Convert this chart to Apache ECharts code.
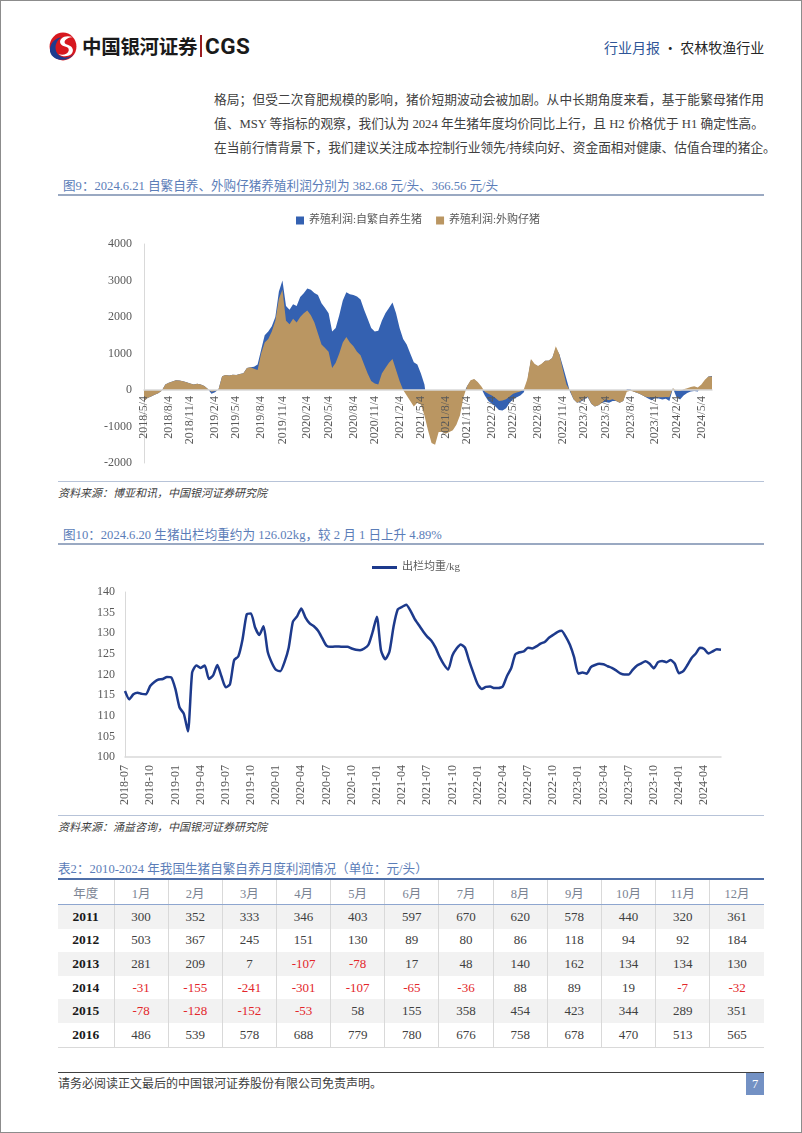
<!DOCTYPE html>
<html><head><meta charset="utf-8">
<script src="https://cdn.jsdelivr.net/npm/echarts@6/dist/echarts.min.js"></script>
<style>
html,body{margin:0;padding:0;background:#fff;}
#page{position:relative;width:802px;height:1133px;box-sizing:border-box;border:1px solid #8c8c8c;overflow:hidden;font-family:"Liberation Serif","Noto Sans CJK SC",serif;color:#404040;background:#fff;}
.abs{position:absolute;}
.pline{position:absolute;left:213px;width:550px;font-size:12.7px;line-height:24px;height:24px;text-align:justify;text-align-last:justify;white-space:nowrap;color:#404040;}
.cap{position:absolute;left:62px;font-size:12.6px;color:#5b7db8;white-space:nowrap;}
.rule{position:absolute;left:57px;width:706px;}
.src{position:absolute;left:57px;font-size:11px;font-style:italic;color:#404040;white-space:nowrap;}
#tbl{position:absolute;left:57px;top:877px;width:706px;border-collapse:collapse;table-layout:fixed;border-top:2px solid #4f6fa8;}
#tbl td{text-align:center;padding:0;font-size:13px;color:#404040;border-left:1px solid #d9d9d9;height:23.6px;}
#tbl td:first-child{border-left:none;}
#tbl tr.hd td{color:#7b8494;height:24px;border-bottom:1px solid #8ea6cf;font-size:12.5px;}
#tbl tr.g td{background:#f2f2f2;}
#tbl td.yr{font-weight:bold;color:#1a1a1a;font-size:13.5px;}
#tbl td.neg{color:#e3262a;}
#tbl tr:last-child td{border-bottom:1px solid #d9d9d9;}
</style></head>
<body>
<div id="page">
  <!-- header -->
  <svg class="abs" style="left:46px;top:30px" width="31" height="31" viewBox="0 0 30 30">
    <ellipse cx="15.5" cy="15" rx="13" ry="13.5" fill="#d7181f"/>
    <path d="M3 20 C 5 29, 20 31, 26 22 C 22 27, 12 27, 9 20 C 7 15, 9 9, 14 6 C 7 7, 2 13, 3 20 Z" fill="#1d3b8f"/>
    <path d="M25 6 C 18 3, 11 7, 13 12 C 15 16, 22 14, 21 19 C 20 23, 14 24, 11 22 C 16 27, 26 24, 25 18 C 24 13, 17 14, 17 11 C 17 8, 21 6, 25 6 Z" fill="#fff"/>
  </svg>
  <div class="abs" style="left:81px;top:31px;font-family:'Noto Sans CJK SC';font-weight:bold;font-size:19.5px;color:#1a1a1a;letter-spacing:-0.3px;line-height:28px;">中国银河证券</div>
  <div class="abs" style="left:199px;top:34px;width:2px;height:22px;background:#9b1c20;"></div>
  <div class="abs" style="left:204px;top:30px;font-family:'Roboto';font-weight:bold;font-size:22.5px;color:#1a1a1a;line-height:30px;letter-spacing:0.5px;">CGS</div>
  <div class="abs" style="left:603px;top:36px;font-family:'Noto Sans CJK SC';font-size:14px;line-height:20px;white-space:nowrap;"><span style="color:#2f5597;">行业月报</span><span style="color:#262626;"> · 农林牧渔行业</span></div>

  <!-- paragraph -->
  <div class="pline" style="top:87px;">格局；但受二次育肥规模的影响，猪价短期波动会被加剧。从中长期角度来看，基于能繁母猪作用</div>
  <div class="pline" style="top:111px;">值、MSY 等指标的观察，我们认为 2024 年生猪年度均价同比上行，且 H2 价格优于 H1 确定性高。</div>
  <div class="pline" style="top:135px;width:547px;">在当前行情背景下，我们建议关注成本控制行业领先/持续向好、资金面相对健康、估值合理的猪企。</div>

  <!-- figure 9 -->
  <div class="cap" style="top:174px;">图9：2024.6.21 自繁自养、外购仔猪养殖利润分别为 382.68 元/头、366.56 元/头</div>
  <div class="rule" style="top:193px;height:2px;background:#9aa9c2;"></div>
  <div id="c1" class="abs" style="left:0;top:200px;width:802px;height:280px;"></div>
  <div class="rule" style="top:480px;height:1px;background:#b7c3d8;"></div>
  <div class="src" style="top:483px;">资料来源：博亚和讯，中国银河证券研究院</div>

  <!-- figure 10 -->
  <div class="cap" style="top:523px;">图10：2024.6.20 生猪出栏均重约为 126.02kg，较 2 月 1 日上升 4.89%</div>
  <div class="rule" style="top:542px;height:2px;background:#9aa9c2;"></div>
  <div id="c2" class="abs" style="left:0;top:548px;width:802px;height:265px;"></div>
  <div class="rule" style="top:814px;height:1px;background:#b7c3d8;"></div>
  <div class="src" style="top:817px;">资料来源：涌益咨询，中国银河证券研究院</div>

  <!-- table -->
  <div class="cap" style="left:57px;top:857px;">表2：2010-2024 年我国生猪自繁自养月度利润情况（单位：元/头）</div>
  <table id="tbl"></table>

  <!-- footer -->
  <div class="rule" style="top:1071px;height:1px;background:#404040;"></div>
  <div class="abs" style="left:57px;top:1075px;font-size:12px;color:#404040;white-space:nowrap;line-height:16px;">请务必阅读正文最后的中国银河证券股份有限公司免责声明。</div>
  <div class="abs" style="left:745px;top:1072px;width:18px;height:22px;background:#7391c4;color:#fff;font-size:12.5px;text-align:center;line-height:22px;">7</div>
</div>

<script>
// ---------- Figure 9: biweekly profit (元/头) from 2018/5/4 ----------
const profitStartDate = '2018-05-04';
const profitStepDays = 14;
const zfzyProfit = [
 -300,-220,-180,-130,-90,-20,150,200,230,270,
 260,240,210,180,150,170,150,110,30,-100,
 -60,20,380,410,400,420,410,440,460,600,
 620,640,700,1100,1500,1600,1750,2000,2700,3000,
 2300,2200,2350,2300,2550,2650,2780,2750,2660,2600,
 2380,2250,2100,1600,1700,2050,2450,2680,2620,2600,
 2560,2480,2200,1950,1700,1600,1620,1900,2100,2250,
 2400,2100,1700,1400,1250,1000,760,700,450,150,
 -600,-1000,-1100,-800,-850,-900,-850,-800,-650,-450,
 -100,100,250,290,200,50,-150,-300,-380,-450,
 -550,-560,-500,-350,-250,-200,-150,-60,250,820,
 700,650,700,800,800,880,1150,980,650,300,
 -50,-250,-350,-320,-250,-200,-380,-450,-420,-350,
 -330,-350,-300,-300,-350,-300,30,20,-50,-80,
 -120,-180,-230,-280,-220,-230,-260,-240,-300,50,
 -200,-260,-150,-80,-40,-30,-40,100,250,370,382.68
];
const wgzzProfit = [
 -300,-220,-180,-130,-90,-20,150,200,230,270,
 260,240,210,180,150,170,150,110,30,-50,
 -30,20,380,410,400,420,410,440,460,600,
 620,580,550,1000,1300,1400,1600,1900,2500,2750,
 1900,1800,1950,1850,2000,2100,2180,2050,1850,1550,
 1250,1150,1050,600,750,1000,1300,1450,1300,1200,
 1050,950,700,450,250,180,150,450,600,750,
 850,550,250,0,-150,-300,-450,-350,-400,-700,
 -1100,-1450,-1500,-1150,-1150,-1200,-1150,-1100,-950,-700,
 -200,100,270,300,220,100,-50,-100,-150,-220,
 -300,-290,-250,-180,-100,-70,-40,20,300,850,
 720,660,720,800,810,880,1200,980,550,150,
 -20,-250,-350,-300,-230,-180,-380,-450,-420,-350,
 -250,-280,-250,-300,-350,-300,-50,-20,-50,-80,
 -120,-180,-200,-200,-190,-200,-200,-190,-200,50,
 -20,-30,20,50,80,100,70,150,280,370,366.56
];
const profitTickLabels = ['2018/5/4','2018/8/4','2018/11/4','2019/2/4','2019/5/4','2019/8/4','2019/11/4',
 '2020/2/4','2020/5/4','2020/8/4','2020/11/4','2021/2/4','2021/5/4','2021/8/4','2021/11/4',
 '2022/2/4','2022/5/4','2022/8/4','2022/11/4','2023/2/4','2023/5/4','2023/8/4','2023/11/4',
 '2024/2/4','2024/5/4'];

// ---------- Figure 10: semi-monthly average slaughter weight (kg) from 2018-07 ----------
const weightStartMonth = '2018-07';
const weightValues = [
 116,114,115.2,115.6,115.3,115.2,117.2,118.2,118.8,118.9,
 119.4,119.3,116.5,112,110.5,106.2,120.5,122.2,121.6,122.2,
 118.9,119.8,122.3,119.5,116.9,117.6,123.5,124.4,128.5,134.6,
 134.8,131.4,129.6,131.7,125.5,122.8,121.1,120.8,123,126.5,
 132.8,134.1,136,133.8,132.4,131.7,130.6,128.8,127,126.7,
 126.8,126.8,126.7,126.7,126.3,126,125.9,126.3,127.2,130.3,
 134,125.8,123.7,125.5,131.7,135.8,136.4,136.9,135.5,133.5,
 132,130.5,129.2,128.2,126.5,124.2,122.4,121.2,124.6,126.3,
 127.3,126.5,123.3,120.4,117.7,116.5,117,117.1,116.7,116.7,
 117.1,119.6,121.5,124.9,125.4,125.6,126.5,126.3,126.8,127.5,
 127.9,128.9,129.6,130.3,130.6,129.2,127.2,124.2,120.2,120.5,
 120.2,121.8,122.3,122.6,122.5,122,121.6,121,120.3,120,
 120,121.2,122.2,122.7,123.2,122.6,121.5,123,123.3,123,
 123.5,122.6,120.3,120.8,122.3,124,125.1,126.5,126.2,125.1,
 125.6,126.1,126.02
];
const weightTickLabels = ['2018-07','2018-10','2019-01','2019-04','2019-07','2019-10','2020-01','2020-04',
 '2020-07','2020-10','2021-01','2021-04','2021-07','2021-10','2022-01','2022-04','2022-07','2022-10',
 '2023-01','2023-04','2023-07','2023-10','2024-01','2024-04'];

// ---------- Table 2 ----------
const tableMonths = ['1月','2月','3月','4月','5月','6月','7月','8月','9月','10月','11月','12月'];
const tableYears = ['2011','2012','2013','2014','2015','2016'];
const profit2011 = [300,352,333,346,403,597,670,620,578,440,320,361];
const profit2012 = [503,367,245,151,130,89,80,86,118,94,92,184];
const profit2013 = [281,209,7,-107,-78,17,48,140,162,134,134,130];
const profit2014 = [-31,-155,-241,-301,-107,-65,-36,88,89,19,-7,-32];
const profit2015 = [-78,-128,-152,-53,58,155,358,454,423,344,289,351];
const profit2016 = [486,539,578,688,779,780,676,758,678,470,513,565];

// ----- build table -----
(function(){
  const rows = [profit2011,profit2012,profit2013,profit2014,profit2015,profit2016];
  let h = '<colgroup><col style="width:56px">' + tableMonths.map(()=>'<col>').join('') + '</colgroup>';
  h += '<tr class="hd"><td>年度</td>' + tableMonths.map(m=>'<td>'+m+'</td>').join('') + '</tr>';
  rows.forEach((r,i)=>{
    h += '<tr class="'+(i%2===0?'g':'')+'"><td class="yr">'+tableYears[i]+'</td>' +
      r.map(v=>'<td'+(v<0?' class="neg"':'')+'>'+v+'</td>').join('') + '</tr>';
  });
  document.getElementById('tbl').innerHTML = h;
})();

const FONT = '"Liberation Serif","Noto Sans CJK SC",serif';
const DAY = 86400000;

// ----- chart 1 categories -----
const p0 = Date.parse(profitStartDate + 'T00:00:00Z');
const profitDates = zfzyProfit.map((_, i) => {
  const d = new Date(p0 + i * profitStepDays * DAY);
  return d.getUTCFullYear() + '/' + (d.getUTCMonth() + 1) + '/' + d.getUTCDate();
});
const profitLabelAt = {};
profitTickLabels.forEach(lb => {
  const [y, m, d] = lb.split('/').map(Number);
  const idx = Math.round((Date.UTC(y, m - 1, d) - p0) / (profitStepDays * DAY));
  profitLabelAt[idx] = lb;
});

const c1Grid = {left: 143, right: 91, top: 43, bottom: 18};
const c1Height = 280;
const pMin = -2000, pMax = 4000;
// move the category axis (line + labels) up to the zero value
const zeroOffset = -(c1Height - c1Grid.top - c1Grid.bottom) * (0 - pMin) / (pMax - pMin);

const c1 = echarts.init(document.getElementById('c1'), null, {renderer: 'canvas'});
c1.setOption({
  animation: false,
  textStyle: {fontFamily: FONT},
  legend: {
    top: 9, left: 290, icon: 'rect', itemWidth: 8, itemHeight: 8, itemGap: 14, itemTextGap: 4,
    textStyle: {fontSize: 11, color: '#595959', fontFamily: FONT}
  },
  grid: Object.assign({outerBoundsMode: 'none', containLabel: false}, c1Grid),
  xAxis: {
    type: 'category', boundaryGap: false, data: profitDates,
    position: 'bottom', offset: zeroOffset,
    axisLine: {onZero: false, lineStyle: {color: '#d9d9d9', width: 1.5}},
    axisTick: {show: false},
    axisLabel: {
      rotate: 90, margin: 6, fontSize: 12, color: '#595959', fontFamily: FONT,
      interval: (i) => profitLabelAt[i] !== undefined,
      formatter: (v, i) => profitLabelAt[i] || ''
    },
    splitLine: {show: false},
    zlevel: 1, z: 5
  },
  yAxis: {
    type: 'value', min: pMin, max: pMax, interval: 1000,
    axisLine: {show: true, lineStyle: {color: '#d9d9d9'}},
    axisTick: {show: false}, splitLine: {show: false},
    axisLabel: {fontSize: 12, color: '#595959', margin: 12, fontFamily: FONT, formatter: (v) => String(v)}
  },
  series: [
    {name: '养殖利润:自繁自养生猪', type: 'line', data: zfzyProfit, symbol: 'none', showSymbol: false,
     lineStyle: {width: 0}, itemStyle: {color: '#3461b1'}, areaStyle: {color: '#3461b1', opacity: 1}},
    {name: '养殖利润:外购仔猪', type: 'line', data: wgzzProfit, symbol: 'none', showSymbol: false,
     lineStyle: {width: 0}, itemStyle: {color: '#ba9662'}, areaStyle: {color: '#ba9662', opacity: 1}}
  ]
});

// ----- chart 2 categories -----
const [wy, wm] = weightStartMonth.split('-').map(Number);
const weightDates = weightValues.map((_, k) => {
  const mo = wm - 1 + Math.floor(k / 2);
  const y = wy + Math.floor(mo / 12), m = mo % 12 + 1;
  return y + '-' + String(m).padStart(2, '0') + '-' + (k % 2 ? '16' : '01');
});
const weightLabelAt = {};
weightTickLabels.forEach(lb => {
  const [y, m] = lb.split('-').map(Number);
  const idx = ((y - wy) * 12 + (m - wm)) * 2;
  weightLabelAt[idx] = lb;
});

const c2 = echarts.init(document.getElementById('c2'), null, {renderer: 'canvas'});
c2.setOption({
  animation: false,
  textStyle: {fontFamily: FONT},
  legend: {
    top: 8, left: 366, icon: 'rect', itemWidth: 25, itemHeight: 3, itemTextGap: 4,
    textStyle: {fontSize: 11, color: '#595959', fontFamily: FONT}
  },
  grid: {left: 124, right: 82, top: 43, bottom: 57, outerBoundsMode: 'none', containLabel: false},
  xAxis: {
    type: 'category', boundaryGap: false, data: weightDates,
    axisLine: {lineStyle: {color: '#d9d9d9', width: 1.5}},
    axisTick: {show: false},
    axisLabel: {
      rotate: 90, margin: 8, fontSize: 12, color: '#595959', fontFamily: FONT,
      interval: (i) => weightLabelAt[i] !== undefined,
      formatter: (v, i) => weightLabelAt[i] || ''
    }
  },
  yAxis: {
    type: 'value', min: 100, max: 140, interval: 5,
    axisLine: {show: true, lineStyle: {color: '#d9d9d9'}},
    axisTick: {show: false}, splitLine: {show: false},
    axisLabel: {fontSize: 12, color: '#595959', margin: 10, fontFamily: FONT}
  },
  series: [
    {name: '出栏均重/kg', type: 'line', data: weightValues, symbol: 'none', showSymbol: false,
     smooth: 0.2, lineStyle: {width: 2.5, color: '#1d3a8c'}, itemStyle: {color: '#1d3a8c'}}
  ]
});
</script>
</body></html>
